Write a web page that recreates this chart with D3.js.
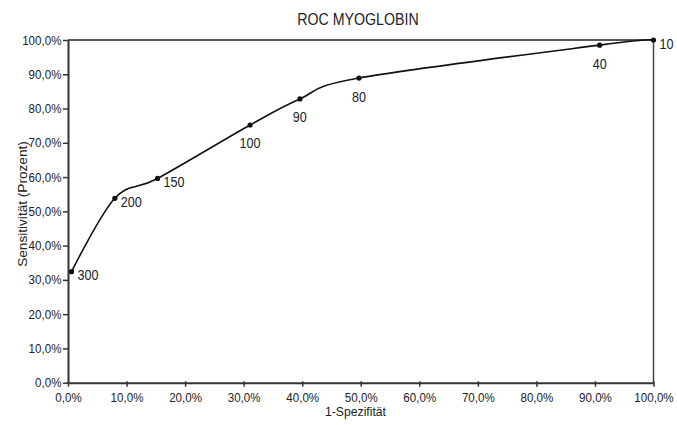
<!DOCTYPE html>
<html>
<head>
<meta charset="utf-8">
<script src="https://cdn.jsdelivr.net/npm/d3@7"></script>
<style>
  html, body { margin: 0; padding: 0; background: #fff; }
  svg { display: block; font-family: "Liberation Sans", Arial, Helvetica, sans-serif; }
</style>
</head>
<body>
<svg id="chart" width="677" height="425"></svg>
<script>
// Data
const thresholds = ["300", "200", "150", "100", "90", "80", "40", "10"];
const falsePositiveRate = [0.6, 8.0, 15.3, 31.1, 39.6, 49.7, 90.8, 100.0]; // 1-Spezifität (%)
const sensitivity = [32.4, 53.8, 59.6, 75.2, 82.8, 88.9, 98.5, 100.0];   // Sensitivität (%)
const labelPlacement = ["right", "right", "right", "below", "below", "below", "below", "right"];
const xTicks = [0, 10, 20, 30, 40, 50, 60, 70, 80, 90, 100];
const yTicks = [0, 10, 20, 30, 40, 50, 60, 70, 80, 90, 100];
const chartTitle = "ROC MYOGLOBIN";
const xTitle = "1-Spezifität";
const yTitle = "Sensitivität (Prozent)";

const svg = d3.select("#chart");
const pLeft = 68, pRight = 653.5, pTop = 40, pBottom = 382.7;
const stretch = 1.1; // the reference's text is slightly taller than wide

const x = d3.scaleLinear().domain([0, 100]).range([pLeft, pRight]);
const y = d3.scaleLinear().domain([0, 100]).range([pBottom, pTop]);

const de = d3.formatLocale({decimal: ",", thousands: ".", grouping: [3], currency: ["", " €"]});
const fmt = v => de.format(".1f")(v) + "%";

const axisColor = "#333";
const textColor = "#222";

// frame top & right
svg.append("line").attr("x1", pLeft).attr("x2", pRight).attr("y1", pTop).attr("y2", pTop)
  .attr("stroke", "#222").attr("stroke-width", 1.5);
svg.append("line").attr("x1", pRight).attr("x2", pRight).attr("y1", pTop).attr("y2", pBottom)
  .attr("stroke", "#444").attr("stroke-width", 1.5);

// X axis
const gx = svg.append("g").attr("transform", `translate(0,${pBottom})`)
  .call(d3.axisBottom(x).tickValues(xTicks).tickFormat(fmt).tickSize(4).tickSizeOuter(0).tickPadding(5));
gx.select(".domain").attr("stroke", axisColor).attr("stroke-width", 2);
gx.selectAll(".tick line").attr("stroke", axisColor).attr("stroke-width", 1.5).attr("y1", -1.5);
gx.selectAll(".tick text").attr("font-size", "11.6px").attr("fill", textColor)
  .attr("font-family", "Liberation Sans, Arial, sans-serif")
  .attr("transform", `scale(1,${stretch})`);

// Y axis
const gy = svg.append("g").attr("transform", `translate(${pLeft},0)`)
  .call(d3.axisLeft(y).tickValues(yTicks).tickFormat(fmt).tickSize(5).tickSizeOuter(0).tickPadding(1.5));
gy.select(".domain").attr("stroke", axisColor).attr("stroke-width", 2);
gy.selectAll(".tick line").attr("stroke", axisColor).attr("stroke-width", 1.5);
gy.selectAll(".tick text").attr("font-size", "11.6px").attr("fill", textColor)
  .attr("font-family", "Liberation Sans, Arial, sans-serif")
  .attr("transform", `scale(1,${stretch})`);

// Titles
svg.append("text").attr("transform", `translate(358,25) scale(1,${stretch})`).attr("text-anchor", "middle")
  .attr("font-size", "14.2px").attr("fill", textColor).text(chartTitle);
svg.append("text").attr("transform", `translate(355.5,416) scale(1,${stretch})`).attr("text-anchor", "middle")
  .attr("font-size", "12.2px").attr("fill", textColor).text(xTitle);
svg.append("text").attr("transform", `translate(26.5,204) rotate(-90) scale(${stretch},1)`)
  .attr("text-anchor", "middle").attr("font-size", "12.4px").attr("fill", textColor).text(yTitle);

// Curve
const pts = thresholds.map((t, i) => ({t, fx: falsePositiveRate[i], sy: sensitivity[i], place: labelPlacement[i]}));
const line = d3.line().x(d => x(d.fx)).y(d => y(d.sy)).curve(d3.curveCardinal.tension(0));
svg.append("path").datum(pts).attr("d", line).attr("fill", "none")
  .attr("stroke", "#111").attr("stroke-width", 1.6);

svg.selectAll("circle.pt").data(pts).enter().append("circle")
  .attr("class", "pt").attr("cx", d => x(d.fx)).attr("cy", d => y(d.sy)).attr("r", 2.6)
  .attr("fill", "#111");

svg.selectAll("text.lbl").data(pts).enter().append("text")
  .attr("class", "lbl")
  .attr("transform", d => {
    const lx = d.place === "right" ? x(d.fx) + 6 : x(d.fx);
    const ly = d.place === "right" ? y(d.sy) + 8.5 : y(d.sy) + 23.5;
    return `translate(${lx},${ly}) scale(1,${stretch})`;
  })
  .attr("text-anchor", d => d.place === "right" ? "start" : "middle")
  .attr("font-size", "12.6px").attr("fill", textColor).text(d => d.t);
</script>
</body>
</html>
